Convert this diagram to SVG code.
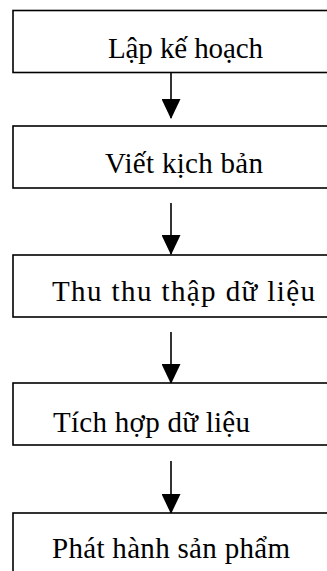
<svg xmlns="http://www.w3.org/2000/svg" width="327" height="571" viewBox="0 0 327 571">
  <style>
    .box { fill: #ffffff; stroke: #000000; stroke-width: 1.6; }
    .label { font-family: "Liberation Serif", "Times New Roman", serif; font-size: 29px; fill: #000000; }
    .link { stroke: #000000; stroke-width: 1.6; fill: none; }
  </style>
  <defs>
    <marker id="head" viewBox="0 0 20 19" refX="19" refY="9.5" markerWidth="20" markerHeight="19" markerUnits="userSpaceOnUse" orient="auto">
      <path d="M0,0 L20,9.5 L0,19 Z" fill="#000000"/>
    </marker>
  </defs>
  <rect width="327" height="571" fill="#ffffff"/>

  <g id="connectors">
    <line class="link" x1="171" y1="72" x2="171" y2="118" marker-end="url(#head)"/>
    <line class="link" x1="171" y1="203" x2="171" y2="254" marker-end="url(#head)"/>
    <line class="link" x1="171" y1="332" x2="171" y2="383" marker-end="url(#head)"/>
    <line class="link" x1="171" y1="461" x2="171" y2="513" marker-end="url(#head)"/>
  </g>

  <g id="plan">
    <rect class="box" x="13" y="10.5" width="340" height="62"/>
    <text class="label" x="108" y="58" textLength="155" lengthAdjust="spacing">Lập kế hoạch</text>
  </g>
  <g id="script">
    <rect class="box" x="13" y="126" width="340" height="62"/>
    <text class="label" x="105" y="173" textLength="158" lengthAdjust="spacing">Viết kịch bản</text>
  </g>
  <g id="collect">
    <rect class="box" x="13" y="255" width="340" height="62"/>
    <text class="label" x="52" y="301" textLength="263" lengthAdjust="spacing">Thu thu thập dữ liệu</text>
  </g>
  <g id="integrate">
    <rect class="box" x="13" y="383" width="340" height="62"/>
    <text class="label" x="53" y="431.5" textLength="197" lengthAdjust="spacing">Tích hợp dữ liệu</text>
  </g>
  <g id="release">
    <rect class="box" x="13" y="513" width="340" height="80"/>
    <text class="label" x="52" y="558" textLength="238" lengthAdjust="spacing">Phát hành sản phẩm</text>
  </g>
</svg>
